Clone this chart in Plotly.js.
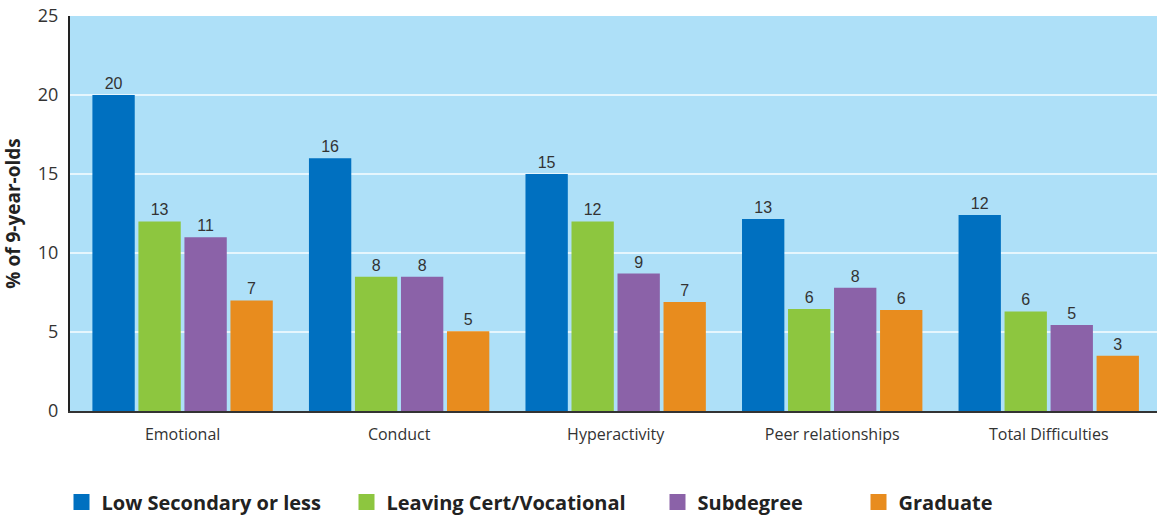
<!DOCTYPE html>
<html>
<head>
<meta charset="utf-8">
<script src="https://cdn.plot.ly/plotly-3.0.1.min.js"></script>
<style>html,body{margin:0;padding:0;background:#fff;}#chart{width:1157px;height:515px;}</style>
</head>
<body>
<div id="chart"></div>
<script>
const categories = ["Emotional", "Conduct", "Hyperactivity", "Peer relationships", "Total Difficulties"];
const seriesNames = ["Low Secondary or less", "Leaving Cert/Vocational", "Subdegree", "Graduate"];
const lowSecondary = [20, 16, 15, 12.15, 12.4];
const leavingCert = [12, 8.5, 12, 6.45, 6.3];
const subdegree = [11, 8.5, 8.7, 7.8, 5.45];
const graduate = [7, 5.05, 6.9, 6.4, 3.5];
const lowSecondaryLabels = ["20", "16", "15", "13", "12"];
const leavingCertLabels = ["13", "8", "12", "6", "6"];
const subdegreeLabels = ["11", "8", "9", "8", "5"];
const graduateLabels = ["7", "5", "7", "6", "3"];
const colors = ["#0070c0", "#8dc63f", "#8b62a8", "#e88c1e"];

const values = [lowSecondary, leavingCert, subdegree, graduate];
const labels = [lowSecondaryLabels, leavingCertLabels, subdegreeLabels, graduateLabels];
const legendIds = ["legend", "legend2", "legend3", "legend4"];
const legendX = [61.5, 346.5, 657.5, 858.5];

const W = 1157, H = 515;
const traces = [];
values.forEach((v, i) => {
  traces.push({
    type: "bar", x: categories, y: v, name: seriesNames[i],
    marker: {color: colors[i]},
    text: labels[i], textposition: "outside", cliponaxis: false,
    textfont: {family: "Liberation Sans Narrow, Arial Narrow, Liberation Sans, sans-serif", size: 16, color: "#333"},
    showlegend: false, hoverinfo: "skip"
  });
});
values.forEach((v, i) => {
  traces.push({
    type: "scatter", mode: "markers", x: [null], y: [null], name: seriesNames[i],
    marker: {symbol: "square", size: 19, color: colors[i]},
    showlegend: true, legend: legendIds[i]
  });
});

const layout = {
  width: W, height: H,
  margin: {l: 70, r: 0, t: 16, b: 104, autoexpand: false},
  paper_bgcolor: "#ffffff",
  plot_bgcolor: "#aee0f8",
  barmode: "group",
  bargap: 0.15,
  bargroupgap: 0.08,
  font: {family: "Open Sans, Noto Sans, sans-serif", color: "#333"},
  xaxis: {
    type: "category", range: [-0.52, 4.5],
    showline: true, linecolor: "#333", linewidth: 2,
    ticks: "", tickfont: {size: 16, color: "#333"},
    ticklabelstandoff: 8,
    showgrid: false, fixedrange: true
  },
  yaxis: {
    range: [0, 25], dtick: 5,
    showline: true, linecolor: "#222", linewidth: 2,
    gridcolor: "#e6f6fd", gridwidth: 1.5,
    zeroline: false,
    ticks: "", tickfont: {size: 18, color: "#333"},
    ticklabelstandoff: 6,
    title: {text: "% of 9-year-olds", font: {size: 19, color: "#222", weight: "bold"}, standoff: 14}
  },
  showlegend: true
};
legendIds.forEach((id, i) => {
  layout[id] = {
    orientation: "h", xref: "container", yref: "container",
    x: legendX[i] / W, xanchor: "left", y: 1 - 502 / H, yanchor: "middle",
    font: {size: 20, color: "#222", weight: "bold"},
    itemwidth: 30, bgcolor: "rgba(0,0,0,0)", borderwidth: 0
  };
});

Plotly.newPlot("chart", traces, layout, {displayModeBar: false, staticPlot: true});
</script>
</body>
</html>
